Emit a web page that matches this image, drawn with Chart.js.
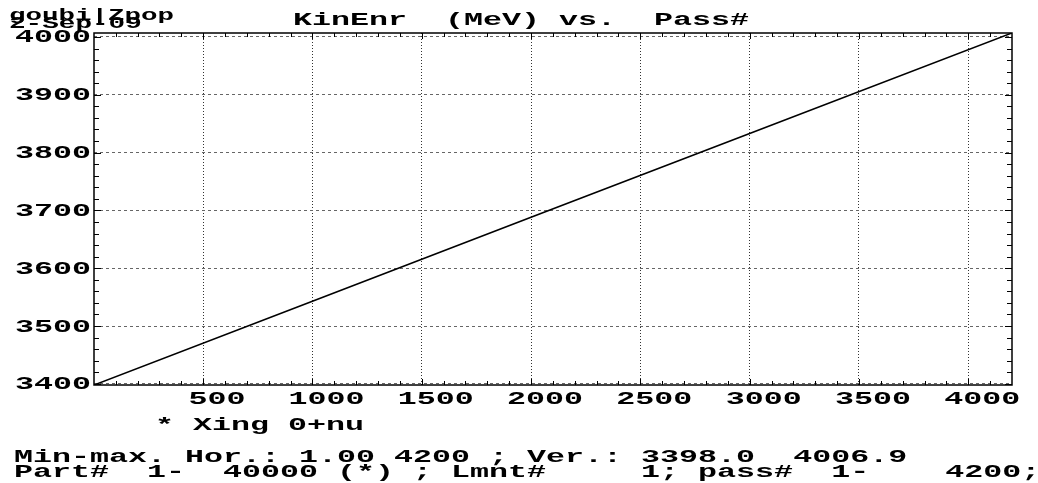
<!DOCTYPE html>
<html>
<head>
<meta charset="utf-8">
<script src="https://cdn.jsdelivr.net/npm/chart.js@4/dist/chart.umd.min.js"></script>
<style>
  html, body { margin: 0; padding: 0; background: #fff; }
  #wrap { width: 1038px; height: 483px; position: relative; }
</style>
</head>
<body>
<div id="wrap"><canvas id="plot"></canvas></div>
<script>
// values (pass number vs kinetic energy, MeV)
const passes = [1, 1000, 2000, 3000, 4200];
const kinEnr = [3398.0, 3543, 3688, 3833, 4006.9];

const xRange = [1, 4200];
const yRange = [3398.0, 4006.9];
const xTicks = [500, 1000, 1500, 2000, 2500, 3000, 3500, 4000];
const yTicks = [3400, 3500, 3600, 3700, 3800, 3900, 4000];
const xMinor = 100, yMinor = 20;

const headerLines = ["goubi|Zpop", "2-Sep-09"];
const titleText = "KinEnr  (MeV) vs.  Pass#";
const legendText = "* Xing 0+nu";
const footerLines = [
  "Min-max. Hor.: 1.00 4200 ; Ver.: 3398.0  4006.9",
  "Part#  1-  40000 (*) ; Lmnt#     1; pass#  1-    4200;",
];

const FONT = '"Liberation Mono", "DejaVu Sans Mono", monospace';

// the original uses a wide, stretched mono font: draw it scaled horizontally
function wideText(ctx, str, x, y, size, advance, align) {
  ctx.save();
  ctx.font = `bold ${size}px ${FONT}`;
  ctx.fillStyle = "#000";
  ctx.textAlign = align || "left";
  ctx.textBaseline = "alphabetic";
  ctx.translate(x, y);
  ctx.scale(advance / (0.6 * size), 1);
  ctx.fillText(str, 0, 0);
  ctx.restore();
}

const frameAndText = {
  id: "frameAndText",
  afterDraw(chart) {
    const { ctx, chartArea: a, scales } = chart;
    const xs = scales.x, ys = scales.y;

    // minor / major tick marks pointing inward on all four sides
    ctx.save();
    ctx.strokeStyle = "#000";
    ctx.lineWidth = 1;
    ctx.beginPath();
    for (let v = xMinor; v < xRange[1]; v += xMinor) {
      const px = Math.round(xs.getPixelForValue(v)) + 0.5;
      const len = xTicks.includes(v) ? 6 : 4;
      ctx.moveTo(px, a.bottom); ctx.lineTo(px, a.bottom - len);
      ctx.moveTo(px, a.top); ctx.lineTo(px, a.top + len);
    }
    for (let v = yTicks[0]; v <= yTicks[yTicks.length - 1]; v += yMinor) {
      const py = Math.round(ys.getPixelForValue(v)) + 0.5;
      const len = yTicks.includes(v) ? 7 : 5;
      ctx.moveTo(a.left, py); ctx.lineTo(a.left + len, py);
      ctx.moveTo(a.right, py); ctx.lineTo(a.right - len, py);
    }
    ctx.stroke();

    ctx.lineWidth = 1.5;
    ctx.strokeRect(a.left, a.top, a.right - a.left, a.bottom - a.top);
    ctx.restore();

    // tick labels at the scales' own tick positions
    for (const t of xs.ticks) {
      wideText(ctx, String(t.value), xs.getPixelForValue(t.value) + 14, 404, 18, 19, "center");
    }
    for (const t of ys.ticks) {
      wideText(ctx, String(t.value), 91, ys.getPixelForValue(t.value) + 5.5, 18, 19, "right");
    }

    wideText(ctx, headerLines[0], 9, 20, 16, 16.5);
    wideText(ctx, headerLines[1], 9, 28, 16, 16.6);
    wideText(ctx, titleText, 293, 24.5, 18, 19);
    wideText(ctx, legendText, 155, 430, 18, 19);
    wideText(ctx, footerLines[0], 14, 462, 18, 19);
    wideText(ctx, footerLines[1], 14, 476.5, 18, 19);
  },
};

new Chart(document.getElementById("plot"), {
  type: "line",
  data: {
    datasets: [{
      label: "Xing 0+nu",
      data: passes.map((p, i) => ({ x: p, y: kinEnr[i] })),
      borderColor: "#000",
      borderWidth: 1.6,
      pointRadius: 0,
      tension: 0,
      fill: false,
    }],
  },
  options: {
    responsive: true,
    maintainAspectRatio: false,
    animation: false,
    layout: { padding: { top: 33, right: 26, left: 0, bottom: 0 } },
    plugins: { legend: { display: false }, tooltip: { enabled: false } },
    scales: {
      x: {
        type: "linear",
        min: xRange[0],
        max: xRange[1],
        afterBuildTicks: s => { s.ticks = xTicks.map(v => ({ value: v })); },
        ticks: { display: false },
        grid: { drawTicks: false, color: "#333", lineWidth: 1 },
        border: { display: false, dash: [1, 2] },
        afterFit: s => { s.height = 98; },
      },
      y: {
        type: "linear",
        min: yRange[0],
        max: yRange[1],
        afterBuildTicks: s => { s.ticks = yTicks.map(v => ({ value: v })); },
        ticks: { display: false },
        grid: { drawTicks: false, color: "#666", lineWidth: 1 },
        border: { display: false, dash: [3, 3] },
        afterFit: s => { s.width = 94; },
      },
    },
  },
  plugins: [frameAndText],
});
</script>
</body>
</html>
